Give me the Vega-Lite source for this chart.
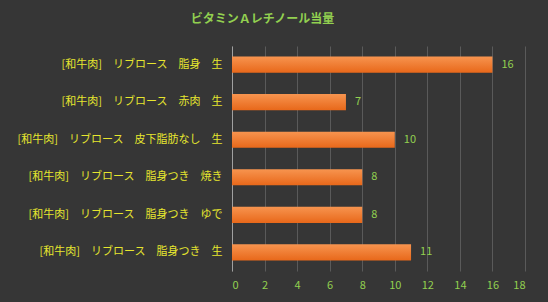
{
  "$schema": "https://vega.github.io/schema/vega-lite/v6.json",
  "autosize": "none",
  "width": 293,
  "height": 225,
  "padding": {"left": 232, "top": 46, "right": 23, "bottom": 31},
  "background": "#363636",
  "config": {"view": {"stroke": null}, "font": "Noto Sans CJK JP"},
  "title": {
    "text": "ビタミンＡレチノール当量",
    "color": "#92d050",
    "fontSize": 12,
    "fontWeight": "bold",
    "font": "Noto Sans CJK JP",
    "anchor": "middle",
    "dx": -116,
    "offset": 20
  },
  "data": {
    "values": [
      {"name": "[和牛肉]　リブロース　脂身　生", "value": 16},
      {"name": "[和牛肉]　リブロース　赤肉　生", "value": 7},
      {"name": "[和牛肉]　リブロース　皮下脂肪なし　生", "value": 10},
      {"name": "[和牛肉]　リブロース　脂身つき　焼き", "value": 8},
      {"name": "[和牛肉]　リブロース　脂身つき　ゆで", "value": 8},
      {"name": "[和牛肉]　リブロース　脂身つき　生", "value": 11}
    ]
  },
  "encoding": {
    "y": {
      "field": "name",
      "type": "nominal",
      "sort": null,
      "title": null,
      "scale": {"paddingInner": 0.57, "paddingOuter": 0.28},
      "axis": {
        "labelColor": "#e6e62e",
        "labelFontSize": 11,
        "labelPadding": 10,
        "ticks": false,
        "domainColor": "#a0a0a0",
        "domainWidth": 1,
        "labelLimit": 300
      }
    },
    "x": {
      "field": "value",
      "type": "quantitative",
      "title": null,
      "scale": {"domain": [0, 18]},
      "axis": {
        "values": [0, 2, 4, 6, 8, 10, 12, 14, 16, 18],
        "labelColor": "#92d050",
        "labelFontSize": 11,
        "labelPadding": 8,
        "ticks": false,
        "domain": false,
        "gridColor": "#5a5a5a",
        "gridWidth": 1
      }
    }
  },
  "layer": [
    {
      "mark": {
        "type": "bar",
        "color": {
          "gradient": "linear",
          "x1": 0, "y1": 0, "x2": 0, "y2": 1,
          "stops": [
            {"offset": 0, "color": "#f7944f"},
            {"offset": 1, "color": "#e8681a"}
          ]
        }
      }
    },
    {
      "mark": {"type": "text", "align": "left", "dx": 9, "color": "#92d050", "fontSize": 11},
      "encoding": {"text": {"field": "value", "type": "quantitative"}}
    }
  ]
}
